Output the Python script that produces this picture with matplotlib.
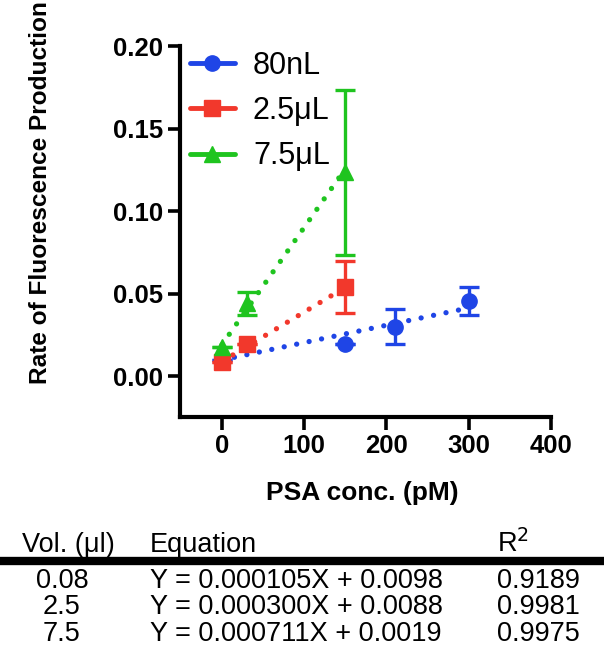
import matplotlib
matplotlib.use("Agg")
import matplotlib.pyplot as plt
from matplotlib.lines import Line2D
import numpy as np

plt.rcParams['font.family'] = ['Liberation Sans', 'DejaVu Sans']

# measured points (PSA conc. in pM, rate, error)
x_80nl = [0, 150, 210, 300]
y_80nl = [0.0097, 0.0194, 0.030, 0.0455]
e_80nl = [0.0, 0.0, 0.0105, 0.0085]

x_25ul = [0, 30, 150]
y_25ul = [0.0085, 0.0194, 0.054]
e_25ul = [0.0, 0.0, 0.016]

x_75ul = [0, 30, 150]
y_75ul = [0.0176, 0.044, 0.1236]
e_75ul = [0.0, 0.007, 0.050]

# fitted lines as drawn (slope, intercept)
fit_slope = [0.000105, 0.000300, 0.000711]
fit_icpt = [0.0098, 0.0088, 0.019]

labels = ['80nL', '2.5μL', '7.5μL']
colors = ['#1f45e6', '#f2382c', '#1fc41f']
markers = ['o', 's', '^']

# table below the chart
tbl_vol = ['0.08', '2.5', '7.5']
tbl_eq = ['Y = 0.000105X + 0.0098', 'Y = 0.000300X + 0.0088', 'Y = 0.000711X + 0.0019']
tbl_r2 = ['0.9189', '0.9981', '0.9975']

W, H = 604, 657
fig = plt.figure(figsize=(W / 100, H / 100), dpi=100)
ax = fig.add_axes([180 / W, 1 - 417 / H, (551 - 180) / W, (417 - 46) / H])

series = [(x_80nl, y_80nl, e_80nl), (x_25ul, y_25ul, e_25ul), (x_75ul, y_75ul, e_75ul)]
for i, (xs, ys, es) in enumerate(series):
    xf = np.array([0, max(xs)])
    ax.plot(xf, fit_slope[i] * xf + fit_icpt[i], color=colors[i], lw=3.8,
            ls=(0, (0.01, 2.4)), dash_capstyle='round', zorder=2)
    ax.errorbar(xs, ys, yerr=es, fmt=markers[i], color=colors[i], ms=11,
                elinewidth=2.4, capsize=7.5, capthick=2.4, zorder=3)

ax.set_xlim(-51, 400)
ax.set_ylim(-0.0248, 0.20)
ax.set_xticks([0, 100, 200, 300, 400])
ax.set_yticks([0.0, 0.05, 0.10, 0.15, 0.20])
ax.set_yticklabels(['0.00', '0.05', '0.10', '0.15', '0.20'])
for s in ['top', 'right']:
    ax.spines[s].set_visible(False)
for s in ['left', 'bottom']:
    ax.spines[s].set_linewidth(3)
ax.tick_params(width=2.6, length=9, labelsize=18.5, pad=3)
for lab in ax.get_xticklabels() + ax.get_yticklabels():
    lab.set_fontweight('bold')

handles = [Line2D([], [], color=colors[i], marker=markers[i], lw=3.5, ms=11,
                  solid_capstyle='round') for i in range(3)]
ax.legend(handles, labels, loc='upper left', bbox_to_anchor=(-0.03, 1.045),
          frameon=False, fontsize=22, handlelength=1.45, handletextpad=0.6,
          labelspacing=0.5, borderaxespad=0.3)

fig.text(41 / W, 1 - 193 / H, 'Rate of Fluorescence Production', rotation=90,
         ha='center', va='center', fontsize=17.6, fontweight='bold')
fig.text(362 / W, 1 - 493 / H, 'PSA conc. (pM)', ha='center', va='center',
         fontsize=19, fontweight='bold')

# table
fig.text(22 / W, 1 - 552 / H, 'Vol. (μl)', fontsize=19.5, va='baseline')
fig.text(150 / W, 1 - 552 / H, 'Equation', fontsize=19.5, va='baseline')
fig.text(497 / W, 1 - 552 / H, 'R$^2$', fontsize=19.5, va='baseline')
fig.add_artist(Line2D([0, 1], [1 - 561 / H, 1 - 561 / H], color='black', lw=6,
                      transform=fig.transFigure))
row_y = [588, 614, 641]
for i in range(3):
    fig.text(62 / W, 1 - row_y[i] / H, tbl_vol[i], fontsize=19.5, va='baseline', ha='center')
    fig.text(150 / W, 1 - row_y[i] / H, tbl_eq[i], fontsize=19.5, va='baseline')
    fig.text(497 / W, 1 - row_y[i] / H, tbl_r2[i], fontsize=19.5, va='baseline')

fig.savefig('out.png', dpi=100)
